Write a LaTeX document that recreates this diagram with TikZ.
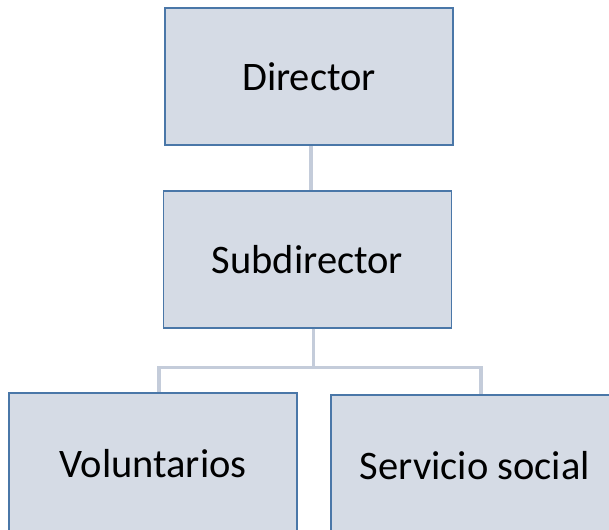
\documentclass[tikz,border=0pt]{standalone}
\usepackage{fontspec}
\setmainfont{Carlito}
\usepackage{tikz}
\usetikzlibrary{positioning}
\definecolor{boxfill}{RGB}{213, 219, 229}
\definecolor{boxline}{RGB}{74, 119, 168}
\definecolor{linkgray}{RGB}{196, 204, 218}
\tikzset{
  orgbox/.style={rectangle, draw=boxline, fill=boxfill, line width=1.8pt,
              minimum height=137pt, minimum width=288pt, inner sep=0pt,
              align=center, font=\fontsize{40.5}{48}\selectfont},
  link/.style={draw=linkgray, line width=3.5pt},
}
\begin{document}
\begin{tikzpicture}[x=1pt, y=-1pt]
    \useasboundingbox (0,0) rectangle (609,529);
    \node[orgbox] (dir) at (309,76.5) {Director};
    \node[orgbox, below=44pt of dir.south, anchor=north, xshift=-1.5pt] (sub) {Subdirector};
    \node[orgbox, anchor=north, minimum height=142pt] (vol) at (153,392) {Voluntarios};
    \node[orgbox, right=32pt of vol, yshift=-2pt, minimum height=142pt] (serv) {Servicio social};
    \coordinate (fork) at ([xshift=6pt, yshift=-39pt]sub.south);

    \draw[link] ([xshift=2pt]dir.south)--([xshift=3.5pt]sub.north);
    \draw[link] ([xshift=6pt]sub.south)--(fork);
    \draw[link] (fork) -| ([xshift=6pt]vol.north);
    \draw[link] (fork) -| ([xshift=6pt]serv.north);
\end{tikzpicture}
\end{document}
